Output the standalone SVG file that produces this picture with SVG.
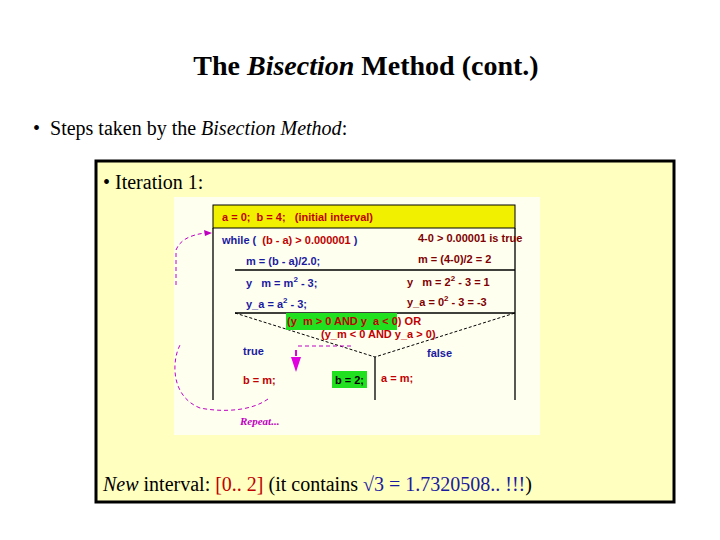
<svg xmlns="http://www.w3.org/2000/svg" width="720" height="540" viewBox="0 0 720 540">
<style>
.t{font-family:"Liberation Serif",serif;fill:#000}
.s{font-family:"Liberation Sans",Arial,sans-serif;font-weight:bold;font-size:11px;white-space:pre}
.r{fill:#c00000}.b{fill:#1a1aa0}.d{fill:#800000}
.ln{stroke:#000;stroke-width:1.3;fill:none}
.dash{stroke:#000;stroke-width:1;stroke-dasharray:3,2;fill:none}
.mg{stroke:#c000c0;stroke-width:1;stroke-dasharray:4,3;fill:none}
</style>
<rect width="720" height="540" fill="#fff"/>
<text class="t" x="366" y="75" font-size="28" font-weight="bold" text-anchor="middle">The <tspan font-style="italic">Bisection</tspan> Method (cont.)</text>
<text class="t" x="33" y="135" font-size="20" style="white-space:pre">•  Steps taken by the <tspan font-style="italic">Bisection Method</tspan>:</text>
<g id="panel">
<rect x="96" y="161" width="578" height="341" fill="#ffffc0" stroke="#000" stroke-width="3"/>
<text class="t" x="103" y="189" font-size="20">• Iteration 1:</text>
<rect x="174" y="197" width="366" height="238" fill="#fffff0"/>
</g>
<g id="header"><rect x="213" y="205" width="302" height="23" fill="#f0f000" stroke="#000"/>
<text class="s r" x="222" y="221">a = 0;  b = 4;   (initial interval)</text></g>
<g id="structure">
<path class="ln" d="M213 228V400M515 228V400M235 270H515M235 313H515M375 357V400"/>
<path class="dash" d="M235 313L375 357L515 313"/>
</g>
<g id="code">
<text class="s b" x="222" y="244">while (  <tspan class="r">(b - a) &gt; 0.000001</tspan> )</text>
<text class="s d" x="418" y="242" font-size="10">4-0 &gt; 0.00001 is true</text>
<text class="s b" x="246" y="265">m = (b - a)/2.0;</text>
<text class="s d" x="418" y="263" font-size="10">m = (4-0)/2 = 2</text>
<text class="s b" x="246" y="287">y   m = m<tspan dy="-5" font-size="8">2</tspan><tspan dy="5"> - 3;</tspan></text>
<text class="s d" x="407" y="286" font-size="10">y   m = 2<tspan dy="-5" font-size="8">2</tspan><tspan dy="5"> - 3 = 1</tspan></text>
<text class="s b" x="246" y="308">y_a = a<tspan dy="-5" font-size="8">2</tspan><tspan dy="5"> - 3;</tspan></text>
<text class="s d" x="407" y="306" font-size="10">y_a = 0<tspan dy="-5" font-size="8">2</tspan><tspan dy="5"> - 3 = -3</tspan></text>
</g>
<g id="condition">
<rect x="286" y="313" width="111" height="17" fill="#20e020"/>
<text class="s r" x="287" y="325" font-size="10">(y  m &gt; 0 AND y  a &lt; 0) OR</text>
<text class="s r" x="321" y="338" font-size="10">(y_m &lt; 0 AND y_a &gt; 0)</text>
</g>
<g id="branches">
<text class="s b" x="243" y="355">true</text>
<text class="s b" x="427" y="357">false</text>
<text class="s r" x="243" y="384">b = m;</text>
<rect x="332" y="371" width="35" height="17" fill="#20e020"/>
<text class="s" x="335" y="384" font-size="10">b = 2;</text>
<text class="s r" x="381" y="382">a = m;</text>
</g>
<g id="connectors">
<path class="mg" d="M298 346H352"/>
<path d="M296 350V356" stroke="#e000e0" stroke-width="2"/>
<polygon points="291,357 301,357 296,372" fill="#e000e0"/>
<path class="mg" d="M268 399C250 412 220 412 200 408C170 396 172 360 180 345"/>
<path class="mg" d="M176 285V250C180 240 190 235 205 233"/>
<polygon points="212,233 204,230 205,236" fill="#c000c0"/>
<text x="240" y="425" font-family="Liberation Serif,serif" font-style="italic" font-weight="bold" font-size="11" fill="#c000c0">Repeat...</text>
</g>
<text class="t" x="103" y="491" font-size="20"><tspan font-style="italic">New</tspan> interval: <tspan fill="#c00000">[0.. 2]</tspan> (it contains <tspan fill="#1a1aa0">√3 = 1.7320508.. !!!</tspan>)</text>
</svg>
